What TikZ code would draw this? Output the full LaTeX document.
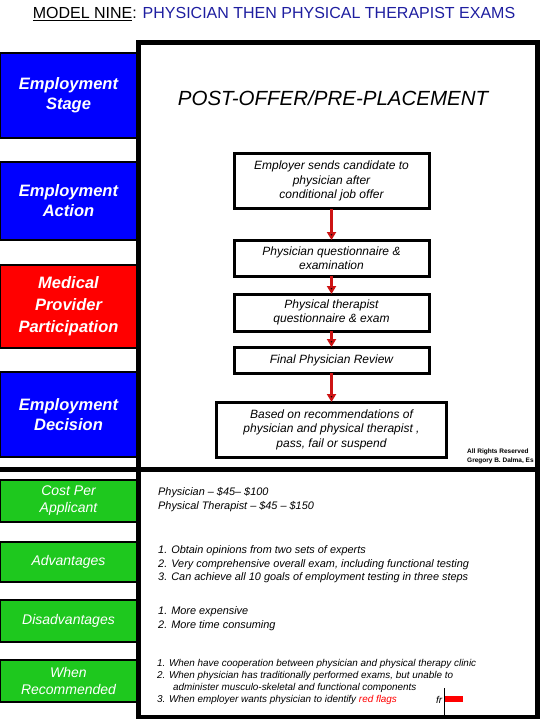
\documentclass[tikz,border=0pt]{standalone}
\usepackage{fontspec}
\setmainfont{Liberation Sans}
\usepackage{xcolor}
\usetikzlibrary{positioning}
\usetikzlibrary{arrows.meta}

\definecolor{stageblue}{RGB}{0,0,255}
\definecolor{providerred}{RGB}{255,0,0}
\definecolor{factgreen}{RGB}{30,200,30}
\definecolor{flowred}{RGB}{205,20,20}
\definecolor{titleblue}{RGB}{30,30,160}

\begin{document}
\begin{tikzpicture}[x=1pt, y=-1pt,%
	base/.style={draw=black, align=center, outer sep=0pt, inner sep=2pt},
	leftbox/.style={base, line width=2.5pt, minimum width=137pt, text=white},
	stagebox/.style={leftbox, fill=stageblue,
		font=\fontsize{16.5}{20}\selectfont\bfseries\itshape},
	providerbox/.style={stagebox, fill=providerred,
		font=\fontsize{16.5}{22}\selectfont\bfseries\itshape},
	factbox/.style={leftbox, fill=factgreen,
		font=\fontsize{14}{17}\selectfont\itshape},
	flowbox/.style={base, line width=3pt, fill=white, minimum width=195pt,
		font=\fontsize{12}{14.5}\selectfont\itshape},
	note/.style={anchor=west, align=left, inner sep=0pt,
		font=\fontsize{10.9}{14}\selectfont\itshape},
	frame/.style={line width=4.5pt},
	arrow/.style={draw=flowred, line width=2.5pt, -{Triangle[length=8pt, width=9pt]}}%
	]
	\useasboundingbox (0,0) rectangle (540,720);
	\fill[white] (0,0) rectangle (540,720);
	%
	% Frame
	%
	\draw[frame] (138.5,42.5) rectangle (537.5,717);
	\draw[frame] (0,469.5) -- (537.5,469.5);
	%
	% Title
	%
	\node (title) at (274,14) {\fontsize{16}{18}\selectfont\underline{MODEL NINE}:
		\textcolor{titleblue}{PHYSICIAN THEN PHYSICAL THERAPIST EXAMS}};
	%
	% Left column
	%
	\node[stagebox, minimum height=85pt] (stage) at (68.5,95.5) {Employment\\ Stage};
	\node[stagebox, minimum height=78pt] (action) at (68.5,201) {Employment\\ Action};
	\node[providerbox, minimum height=83pt] (provider) at (68.5,306.5) {Medical\\ Provider\\ Participation};
	\node[stagebox, minimum height=85pt] (decision) at (68.5,414.5) {Employment\\ Decision};
	\node[factbox, minimum height=42pt] (cost) at (68.5,501) {Cost Per\\ Applicant};
	\node[factbox, minimum height=40pt] (pros) at (68.5,562) {Advantages};
	\node[factbox, minimum height=42pt] (cons) at (68.5,621) {Disadvantages};
	\node[factbox, minimum height=42pt] (when) at (68.5,681) {When\\ Recommended};
	%
	% Flow
	%
	\node[font=\fontsize{20.5}{24}\selectfont\itshape] (header) at (333,98) {POST-OFFER/PRE-PLACEMENT};
	\node[flowbox, minimum height=55pt] (offer) at (331.5,181) {Employer sends candidate to\\ physician after\\ conditional job offer};
	\node[flowbox, minimum height=36pt, below=31.5pt of offer] (physexam) {Physician questionnaire \&\\ examination};
	\node[flowbox, minimum height=37pt, below=18pt of physexam] (ptexam) {Physical therapist\\ questionnaire \& exam};
	\node[flowbox, minimum height=26pt, below=16pt of ptexam] (review) {Final Physician Review};
	\node[flowbox, minimum height=55pt, minimum width=230pt, below=29pt of review] (verdict) {Based on recommendations of\\ physician and physical therapist ,\\ pass, fail or suspend};
	\path[arrow] (offer) edge (physexam);
	\path[arrow] (physexam) edge (ptexam);
	\path[arrow] (ptexam) edge (review);
	\path[arrow] (review) edge (verdict);
	\node[anchor=west, align=left, inner sep=0pt, font=\fontsize{6.5}{9}\selectfont\bfseries] (rights) at (467,456.5) {All Rights Reserved\\ Gregory B. Dalma, Es};
	%
	% Notes
	%
	\node[note] (costtext) at (158,500) {Physician -- \$45-- \$100\\ Physical Therapist -- \$45 -- \$150};
	\node[note, font=\fontsize{10.9}{13.5}\selectfont\itshape] (prostext) at (158,564.5) {1. Obtain opinions from two sets of experts\\ 2. Very comprehensive overall exam, including functional testing\\ 3. Can achieve all 10 goals of employment testing in three steps};
	\node[note, font=\fontsize{10.9}{13.5}\selectfont\itshape] (constext) at (158,618.5) {1. More expensive\\ 2. More time consuming};
	\node[note, font=\fontsize{9.9}{12}\selectfont\itshape] (whentext) at (157,681.5) {1. When have cooperation between physician and physical therapy clinic\\ 2. When physician has traditionally performed exams, but unable to\\ \hspace*{16pt}administer musculo-skeletal and functional components\\ 3. When employer wants physician to identify \textcolor{red}{red flags}};
	\node[note, font=\fontsize{9.9}{12}\selectfont\itshape] (frag) at (436,699.5) {fr};
	\draw[line width=0.8pt] (444,688) -- (444,717);
	\fill[red] (445,696) rectangle (463,702);
\end{tikzpicture}
\end{document}
